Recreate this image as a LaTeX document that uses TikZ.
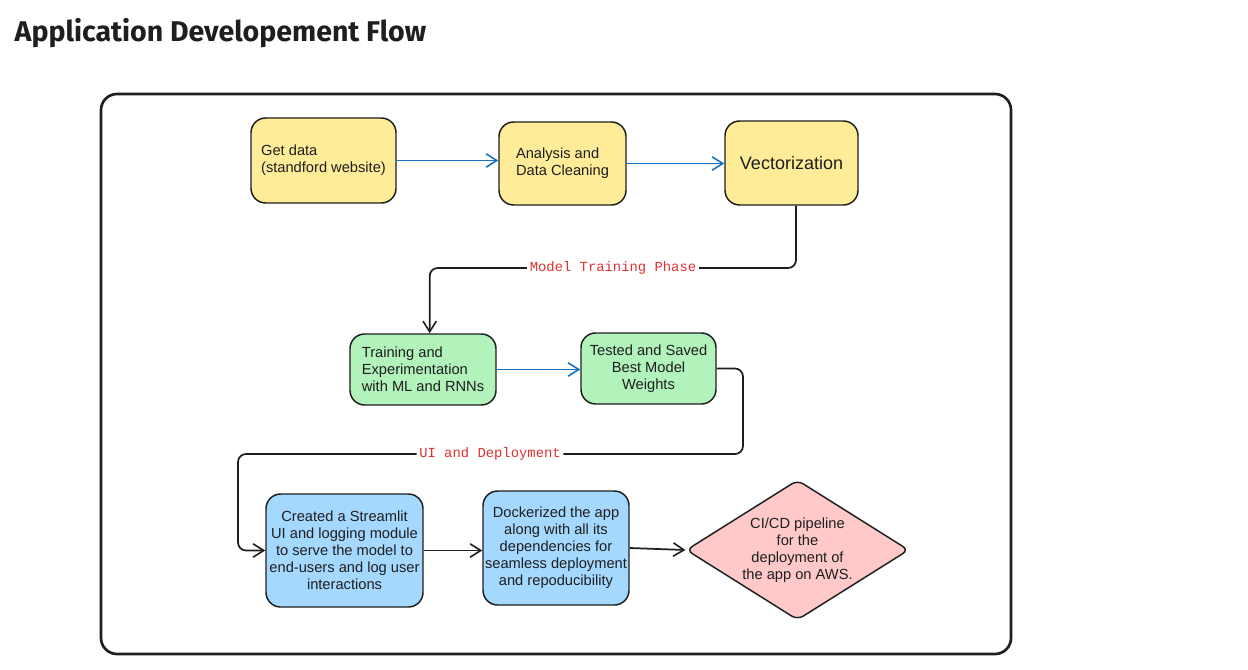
\documentclass[tikz,border=0pt]{standalone}
\usepackage{fontspec}
\setmainfont{Liberation Sans}
\newfontfamily\titlefont{Fira Sans}
\newfontfamily\labelfont{Liberation Mono}
\usetikzlibrary{arrows.meta,shapes.geometric}
\definecolor{ink}{HTML}{1E1E1E}
\definecolor{yel}{HTML}{FFEC99}
\definecolor{grn}{HTML}{B2F2BB}
\definecolor{blu}{HTML}{A5D8FF}
\definecolor{pnk}{HTML}{FFC9C9}
\definecolor{arrblue}{HTML}{1971C2}
\definecolor{lblred}{HTML}{E03131}
\tikzset{
  box/.style={draw=ink, line width=1.1pt, rounded corners=11pt, inner sep=0pt,
    font=\fontsize{11}{12.75}\selectfont, text=ink},
  conn/.style={draw=ink, line width=1.3pt, rounded corners=6pt,
    -{Straight Barb[length=8pt,width=10pt,line width=1.2pt]}},
  bluearrow/.style={draw=arrblue, line width=1.3pt,
    -{Straight Barb[length=8pt,width=10pt,line width=1.2pt]}},
  phase/.style={fill=white, text=lblred, inner sep=2pt,
    font=\labelfont\fontsize{10.4}{12}\selectfont},
}
\begin{document}
\begin{tikzpicture}[x=0.75pt,y=-0.75pt]
\useasboundingbox (0,0) rectangle (1248,670);
\node[anchor=west, text=ink, font=\titlefont\bfseries\fontsize{21.4}{26}\selectfont] (title) at (10,33) {Application Developement Flow};
\node[draw=ink, line width=2pt, rounded corners=12pt, minimum width=682.5pt, minimum height=420pt] (frame) at (556,374) {};

\node[box, fill=yel, minimum width=108.75pt, minimum height=63.75pt, align=left] (get) at (323.5,160.5) {Get data\\(standford website)};
\node[box, fill=yel, minimum width=95.25pt, minimum height=62.25pt, align=left] (ana) at (562.5,163.5) {Analysis and\\Data Cleaning};
\node[box, fill=yel, minimum width=99.75pt, minimum height=63pt, font=\fontsize{13.5}{15}\selectfont] (vec) at (791.5,163) {Vectorization};

\node[box, fill=grn, minimum width=109.5pt, minimum height=53.25pt, align=left] (train) at (423,369.5) {Training and\\Experimentation\\with ML and RNNs};
\node[box, fill=grn, minimum width=101.25pt, minimum height=53.25pt, align=center] (test) at (648.5,368.5) {Tested and Saved\\Best Model\\Weights};

\node[box, fill=blu, minimum width=117.75pt, minimum height=84.75pt, align=center] (stream) at (344.5,550.5) {Created a Streamlit\\UI and logging module\\to serve the model to\\end-users and log user\\interactions};
\node[box, fill=blu, minimum width=109.5pt, minimum height=85.5pt, align=center] (dock) at (556,548) {Dockerized the app\\along with all its\\dependencies for\\seamless deployment\\and repoducibility};
\node[diamond, draw=ink, line width=1.1pt, fill=pnk, rounded corners=5pt, shape aspect=1.6, inner sep=0pt, minimum width=167pt, minimum height=105pt, align=center, text=ink, font=\fontsize{11}{12.75}\selectfont] (diam) at (797.5,550) {CI/CD pipeline\\for the\\deployment of\\the app on AWS.};

\draw[bluearrow] (get.east) -- (get.east -| ana.west);
\draw[bluearrow] (ana.east) -- (ana.east -| vec.west);
\draw[bluearrow] (train.east) -- (train.east -| test.west);

\coordinate (m1) at (613,268);
\draw[conn] ([xshift=3.4pt]vec.south) |- (m1) node[phase] (lab1) {Model Training Phase} -| ([xshift=5pt]train.north);

\coordinate (k1) at (743,454);
\coordinate (m2) at (490,454);
\coordinate (k2) at (238,454);
\draw[conn] (test.east) -| (k1) -- (m2) node[phase] (lab2) {UI and Deployment} -- (k2) |- (stream.west);

\draw[conn] (stream.east) -- (stream.east -| dock.west);
\draw[conn] (dock.east) -- (diam.west);
\end{tikzpicture}
\end{document}
